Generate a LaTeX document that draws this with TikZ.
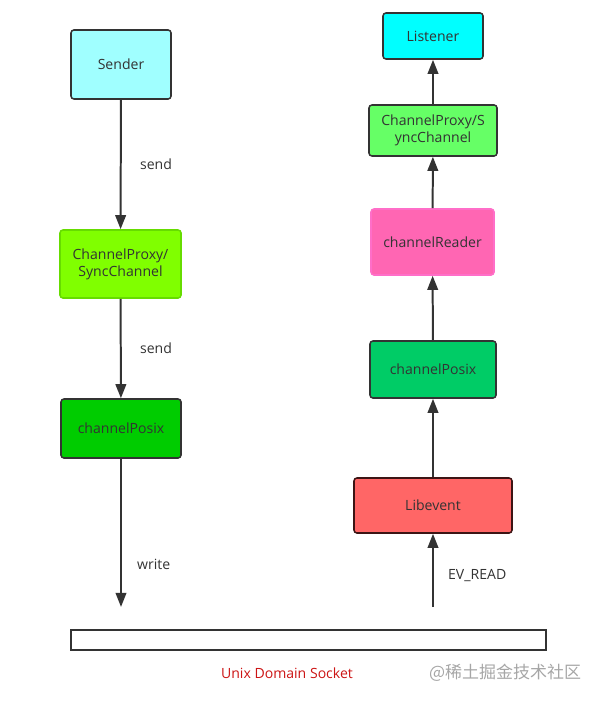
\documentclass[tikz,border=0pt]{standalone}
\usepackage{fontspec}
\setmainfont{Open Sans}
\newfontfamily\cjk{Noto Sans CJK SC}
\usetikzlibrary{arrows.meta}
\definecolor{edge}{HTML}{333333}
\definecolor{txt}{HTML}{333333}
\begin{document}
\begin{tikzpicture}[x=0.03cm,y=-0.03cm,
  box/.style={rectangle, rounded corners=2.5pt, draw=edge, line width=1.3pt, text=txt, font=\fontsize{12}{14.5}\selectfont, align=center, inner sep=0pt},
  flow/.style={draw=edge, line width=1.7pt, -{Triangle[width=9pt,length=12pt]}},
  lbl/.style={text=txt, font=\fontsize{12}{14.5}\selectfont, anchor=west}]
  \useasboundingbox (0,0) rectangle (606,702);

  % left column
  \node[box, fill={rgb,255:red,160;green,255;blue,255}, minimum width=100*0.03cm, minimum height=69*0.03cm] (sender) at (121,64.5) {Sender};
  \node[box, fill={rgb,255:red,128;green,255;blue,0}, draw={rgb,255:red,102;green,220;blue,0}, minimum width=121*0.03cm, minimum height=68*0.03cm] (proxyl) at (120.5,264) {ChannelProxy/\\SyncChannel};
  \node[box, fill={rgb,255:red,0;green,204;blue,0}, minimum width=120*0.03cm, minimum height=59*0.03cm] (posixl) at (121,428.5) {channelPosix};
  \coordinate (wend) at (121,607);

  \draw[flow] (sender) -- (proxyl);
  \draw[flow] (proxyl) -- (posixl);
  \draw[flow] (posixl) -- (wend);
  \node[lbl] (s1) at (136,164) {send};
  \node[lbl] (s2) at (136,348) {send};
  \node[lbl] (w) at (133,564) {write};

  % right column
  \node[box, fill={rgb,255:red,0;green,255;blue,255}, minimum width=100*0.03cm, minimum height=46*0.03cm] (listener) at (433,36) {Listener};
  \node[box, fill={rgb,255:red,102;green,255;blue,102}, minimum width=128*0.03cm, minimum height=51*0.03cm] (proxyr) at (433,130.5) {ChannelProxy/S\\yncChannel};
  \node[box, fill={rgb,255:red,255;green,102;blue,179}, draw={rgb,255:red,255;green,110;blue,200}, minimum width=123*0.03cm, minimum height=66*0.03cm] (reader) at (432.5,242) {channelReader};
  \node[box, fill={rgb,255:red,0;green,204;blue,102}, minimum width=126*0.03cm, minimum height=57*0.03cm] (posixr) at (433,369.5) {channelPosix};
  \node[box, fill={rgb,255:red,255;green,102;blue,102}, draw={rgb,255:red,60;green,20;blue,20}, minimum width=158*0.03cm, minimum height=55*0.03cm] (libevent) at (433,505.5) {Libevent};
  \coordinate (rstart) at (433,607);

  \draw[flow] (rstart) -- (libevent);
  \draw[flow] (libevent) -- (posixr);
  \draw[flow] (posixr) -- (reader);
  \draw[flow] (reader) -- (proxyr);
  \draw[flow] (proxyr) -- (listener);
  \node[lbl] (ev) at (444,576) {EV\_READ};

  % socket
  \node[rectangle, draw=edge, line width=1.3pt, minimum width=475*0.03cm, minimum height=20*0.03cm, inner sep=0pt] (sock) at (308.5,640) {};
  \node[text={rgb,255:red,204;green,20;blue,20}, font=\fontsize{12}{14.5}\selectfont] (socklbl) at (287,673) {Unix Domain Socket};
  \node[text=gray!70, font=\cjk\fontsize{14.5}{16}\selectfont] (mark) at (505,673) {@稀土掘金技术社区};
\end{tikzpicture}
\end{document}
